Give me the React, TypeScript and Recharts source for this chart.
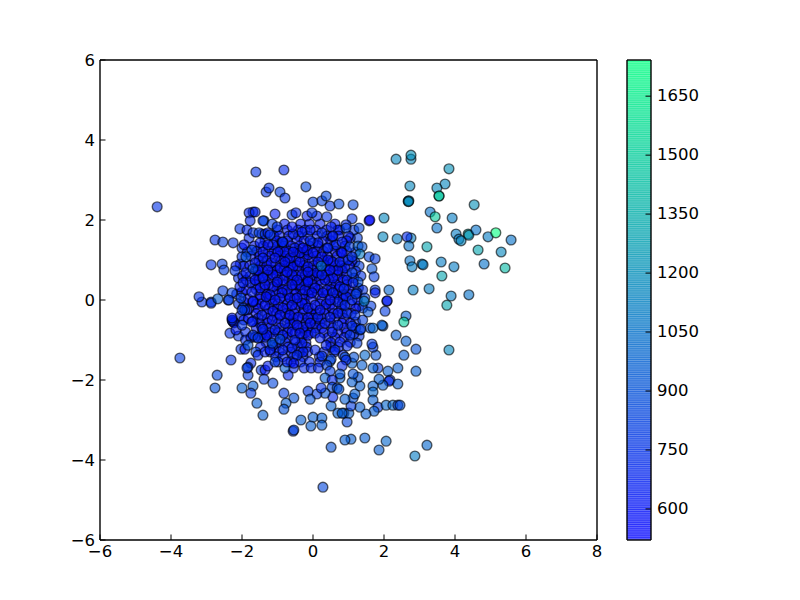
import { ReferenceArea, Scatter, ScatterChart, XAxis, YAxis } from "recharts"

// each point is [x, y, colour value]
const rightCluster = [
  [2.34, 3.52, 1150], [2.76, 3.52, 1150], [2.76, 3.62, 1200], [3.83, 3.28, 1200], [2.73, 2.85, 1150],
  [3.72, 2.9, 1150], [3.49, 2.8, 1150], [3.55, 2.6, 1500], [3.55, 2.6, 1450], [2.68, 2.47, 1050],
  [2.7, 2.48, 1150], [2.69, 2.46, 1200], [4.54, 2.38, 1200], [3.3, 2.2, 1050], [3.44, 2.08, 1500],
  [3.92, 2.05, 1100], [2.0, 2.05, 1150], [3.49, 1.8, 1050], [4.03, 1.65, 1100], [4.11, 1.52, 1100],
  [4.17, 1.48, 1150], [4.37, 1.65, 1350], [4.39, 1.62, 1200], [4.59, 1.75, 1050], [4.93, 1.58, 1100],
  [5.15, 1.68, 1740], [5.58, 1.5, 1050], [4.65, 1.25, 1300], [5.3, 1.2, 1150], [1.97, 1.58, 1150],
  [2.37, 1.53, 1100], [2.76, 1.55, 1100], [2.65, 1.58, 700], [2.7, 1.35, 1050], [3.21, 1.33, 1300],
  [2.73, 0.98, 1050], [2.79, 0.83, 1100], [3.07, 0.9, 1100], [3.1, 0.88, 1100], [3.61, 0.95, 1100],
  [3.97, 0.83, 1100], [4.82, 0.9, 1050], [5.41, 0.8, 1400], [3.63, 0.6, 1300], [2.82, 0.25, 1100],
  [3.27, 0.28, 1100], [3.89, 0.1, 1100], [4.39, 0.13, 1050], [3.77, -0.13, 1300], [2.14, 0.25, 1000],
  [2.08, -0.03, 700], [2.09, -0.02, 650], [2.03, -0.28, 800], [2.62, -0.4, 950], [2.56, -0.55, 1500],
  [1.97, -0.65, 950], [2.34, -0.88, 950], [2.62, -1.03, 950], [2.9, -1.23, 900], [3.83, -1.25, 1150],
  [2.56, -1.38, 950], [2.39, -1.7, 950], [2.9, -1.78, 950], [2.11, -1.78, 950],
]

const lowerRight = [
  [1.94, -0.63, 950], [1.83, -1.7, 800], [1.69, -1.7, 950], [1.77, -1.38, 900], [1.69, -1.18, 800],
  [1.66, -1.1, 800], [1.46, -1.38, 1000], [1.69, -0.7, 1000], [1.35, -0.73, 800], [2.17, -2.0, 800],
  [2.14, -2.03, 700], [1.97, -2.13, 950], [1.86, -1.98, 950], [2.39, -2.1, 950], [1.69, -2.15, 950],
  [1.69, -2.3, 1000], [1.69, -2.5, 950], [1.83, -2.68, 800], [1.72, -2.78, 950], [2.06, -2.63, 1000],
  [2.25, -2.63, 1000], [2.39, -2.63, 800], [2.45, -2.63, 900], [2.87, -3.9, 1100], [2.06, -3.53, 1000],
  [1.86, -3.75, 950], [1.46, -3.45, 950], [1.07, -3.48, 950], [0.9, -3.5, 950], [0.51, -3.68, 900],
  [0.28, -4.68, 850], [3.21, -3.63, 1000], [0.96, -3.05, 850], [0.87, -2.83, 850], [0.7, -2.83, 950],
  [1.01, -2.83, 950], [0.82, -2.83, 950], [1.49, -2.85, 950], [1.32, -2.68, 950], [1.07, -2.65, 800],
  [0.51, -2.65, 950], [1.13, -2.45, 900], [1.18, -2.35, 950], [0.9, -2.48, 950], [1.32, -2.15, 950],
  [1.27, -1.93, 900], [1.1, -2.05, 950], [1.13, -1.85, 900], [1.38, -1.63, 950], [1.1, -1.58, 950],
  [1.15, -1.43, 900], [0.9, -1.43, 900], [0.93, -1.5, 700], [0.82, -1.65, 700], [0.48, -1.53, 950],
  [0.51, -1.48, 800], [0.39, -1.63, 800], [0.48, -1.78, 800], [0.76, -1.95, 950], [0.76, -1.85, 900],
  [0.34, -1.95, 950], [0.54, -2.0, 700], [0.54, -2.18, 850], [0.68, -2.2, 850], [0.73, -2.23, 900],
  [0.56, -2.43, 700], [0.34, -2.33, 900], [0.11, -2.35, 800], [0.23, -2.2, 750], [-0.14, -2.28, 800],
  [-0.08, -2.48, 900], [-0.54, -2.45, 900], [-0.34, -3.0, 950], [0.0, -2.93, 950], [0.25, -2.95, 950],
  [-0.06, -3.15, 950], [0.25, -3.13, 950], [-0.56, -3.28, 750], [-0.54, -3.25, 850],
]

const lowerLeft = [
  [-2.31, -1.5, 750], [-2.7, -1.88, 850], [-2.76, -2.2, 900], [-3.75, -1.45, 800], [-2.0, -2.2, 950],
  [-1.69, -2.15, 950], [-1.75, -2.33, 800], [-1.58, -2.58, 950], [-1.41, -2.88, 950], [-0.82, -2.33, 800],
  [-0.76, -2.58, 950], [-0.82, -2.73, 900], [-1.83, -1.88, 800], [-1.75, -1.58, 700], [-1.83, -1.68, 800],
  [-1.86, -1.7, 800], [-1.38, -1.98, 800], [-1.13, -2.08, 850], [-1.46, -1.75, 800], [-1.35, -1.75, 600],
  [-1.27, -1.65, 650], [-1.07, -1.55, 800], [-2.03, -1.23, 750], [-1.92, -1.23, 650], [-1.83, -1.13, 900],
  [-1.61, -1.3, 800], [-1.55, -1.38, 700], [-1.35, -1.3, 650], [-1.21, -1.25, 650], [-2.34, -0.83, 750],
  [-2.25, -0.55, 600], [-2.27, -0.52, 600], [-2.22, -0.57, 600], [-2.17, -0.75, 650], [-2.28, -0.5, 750],
  [-2.0, -0.63, 750], [-1.72, -0.55, 650], [-1.69, -0.88, 750], [-1.55, -0.95, 750], [-1.3, -0.88, 600],
  [-1.41, -0.73, 650], [-1.15, -1.08, 900], [-0.7, -1.88, 700], [-0.79, -1.7, 950], [-0.73, -1.55, 650],
  [-0.54, -1.58, 600], [-0.93, -0.98, 850], [-3.13, -0.05, 750], [-2.87, -0.05, 800], [-3.21, 0.08, 750],
  [-2.87, -0.08, 750], [-2.68, 0.03, 950], [-2.39, 0.0, 800], [-1.97, -0.2, 800], [-1.86, -0.25, 650],
  [-1.69, -0.05, 650],
]

const upperLeft = [
  [-4.39, 2.33, 750], [-1.61, 3.2, 750], [-0.82, 3.25, 700], [-1.32, 2.7, 750], [-1.24, 2.8, 750],
  [-0.2, 2.83, 850], [-0.93, 2.7, 800], [-0.79, 2.55, 750], [-1.69, 2.2, 700], [-1.8, 2.18, 700],
  [-1.63, 2.2, 700], [-1.77, 1.98, 700], [-1.38, 1.98, 850], [-2.06, 1.78, 750], [-1.86, 1.75, 700],
  [-1.69, 1.68, 750], [-2.76, 1.5, 750], [-2.54, 1.45, 800], [-2.25, 1.43, 750], [-1.94, 1.38, 600],
  [-1.52, 1.68, 800], [-1.35, 1.65, 750], [-1.27, 1.68, 650], [-1.72, 1.25, 800], [-2.0, 1.08, 750],
  [-1.89, 1.08, 900], [-2.87, 0.88, 750], [-2.56, 0.9, 800], [-2.51, 0.75, 800], [-2.17, 0.85, 650],
  [-2.2, 0.73, 750], [-1.89, 0.68, 650], [-1.69, 0.78, 850], [-1.41, 0.55, 650], [-2.06, 0.33, 650],
  [-1.97, 0.43, 650], [-2.54, 0.23, 800], [-2.28, 0.18, 800], [-2.37, 0.0, 800], [-2.03, 0.05, 800],
  [-1.72, 0.2, 650], [-1.69, -0.03, 600], [-1.32, 0.08, 600], [-1.92, -0.25, 750], [-2.0, -0.25, 800],
  [-2.28, -0.45, 650],
]

const upperRight = [
  [0.0, 2.45, 800], [0.25, 2.48, 800], [0.37, 2.6, 850], [0.48, 2.35, 750], [0.73, 2.4, 850],
  [1.13, 2.38, 850], [-1.07, 2.15, 650], [-1.41, 1.98, 800], [-1.15, 1.9, 800], [-1.01, 1.83, 750],
  [-0.59, 2.13, 800], [-0.48, 2.18, 700], [-0.17, 2.1, 650], [0.11, 2.1, 700], [-0.03, 2.18, 750],
  [0.39, 2.08, 750], [1.1, 2.03, 750], [0.93, 1.88, 700], [0.93, 1.8, 800], [1.3, 1.8, 850],
  [1.58, 1.98, 600], [1.6, 2.0, 550], [-0.59, 1.83, 600], [-0.31, 1.7, 650], [0.25, 1.68, 700],
  [0.51, 1.83, 650], [0.56, 1.6, 650], [-0.08, 1.48, 700], [0.82, 1.45, 650], [-0.85, 1.45, 700],
  [-1.21, 1.63, 750], [-0.28, 1.3, 600], [-0.56, 1.2, 600], [0.42, 1.3, 700], [0.82, 1.18, 600],
  [1.04, 1.33, 800], [1.27, 1.35, 950], [1.38, 1.33, 900], [1.32, 1.15, 1100], [1.58, 1.08, 850],
  [1.75, 1.03, 800], [1.1, 1.08, 750], [1.66, 0.78, 900], [1.72, 0.58, 800], [1.27, 0.45, 900],
  [1.75, 0.25, 800], [1.75, 0.18, 650], [1.63, -0.15, 800], [1.55, -0.3, 900], [1.44, -0.03, 1100],
  [1.21, 0.15, 800], [1.13, 0.43, 650], [0.87, 0.28, 700], [1.1, 0.68, 800],
]

// looser points round the packed middle
const coreEdge = [
  [1.2, 1.2, 700], [1.18, 0.95, 750], [1.3, 0.85, 800], [1.2, 0.72, 700], [1.35, 0.6, 750],
  [1.15, 0.55, 700], [1.28, 0.3, 700], [1.4, 0.25, 750], [1.3, -0.15, 700], [1.4, -0.2, 800],
  [1.2, -0.55, 700], [1.4, -0.5, 800], [1.3, -0.9, 750], [1.15, -0.85, 700], [1.25, 1.55, 800],
  [1.05, 1.55, 700], [1.15, 1.75, 750], [0.75, 1.75, 700],
  [-2.05, 0.9, 700], [-1.95, 0.85, 650], [-2.1, 0.55, 700], [-1.98, 0.6, 650], [-2.15, 0.15, 700],
  [-2.0, 0.2, 650], [-1.95, -0.05, 700], [-2.1, -0.1, 750], [-2.05, -0.4, 700], [-1.95, -0.5, 650],
  [-2.1, -0.9, 750], [-1.9, -0.8, 700], [-2.0, 1.3, 750], [-1.9, -1.0, 700], [-1.85, 1.2, 700],
  [-1.8, 1.55, 700],
]

const core = [
  [-1.44, 1.65, 650], [-1.13, 1.38, 650], [-1.49, 1.43, 650], [-0.87, 1.45, 650], [-0.56, 1.65, 650],
  [-1.41, 1.2, 600], [-0.79, 1.2, 600], [-0.51, 1.3, 650], [-1.18, 0.93, 600], [-0.93, 0.8, 600],
  [-0.56, 0.83, 600], [-0.37, 0.95, 600], [-1.41, 1.05, 650], [-1.63, 0.93, 650], [-1.41, 0.58, 600],
  [-1.77, 0.6, 650], [-1.13, 0.63, 600], [-0.85, 0.5, 600], [-0.59, 0.63, 600], [-0.31, 0.63, 600],
  [-0.37, 0.38, 600], [-0.73, 0.25, 600], [-1.13, 0.33, 600], [-1.49, 0.3, 600], [-1.77, 0.43, 650],
  [-0.14, 0.83, 600], [-0.14, 1.13, 600], [-1.27, 1.38, 600], [-0.99, 1.2, 600], [-0.65, 1.05, 600],
  [-1.07, 1.05, 600], [-0.79, 0.95, 600], [-0.37, 1.18, 600], [-1.55, 0.75, 600], [-1.27, 0.75, 600],
  [-0.73, 0.7, 600], [-0.45, 0.5, 600], [-0.14, 0.5, 600], [-1.01, 0.45, 600], [-1.35, 0.38, 600],
  [-0.59, 0.38, 600], [-0.23, 0.25, 600], [-0.87, 0.18, 600], [-1.63, 0.5, 600],
  [0.0, 1.43, 650], [0.54, 1.58, 650], [0.79, 1.2, 600], [0.39, 1.3, 600], [0.14, 1.43, 650],
  [-0.08, 1.75, 650], [0.56, 0.95, 600], [0.9, 0.8, 650], [0.56, 0.55, 600], [0.96, 0.5, 650],
  [0.34, 0.5, 600], [0.11, 0.68, 600], [-0.14, 0.7, 600], [-0.17, 1.25, 600], [-0.14, 0.45, 600],
  [0.7, 0.75, 600], [0.76, 0.33, 600], [0.39, 0.25, 600], [0.06, 0.3, 600], [0.25, 1.08, 600],
  [0.0, 1.18, 600], [0.42, 1.0, 600], [0.14, 0.95, 600], [0.48, 0.75, 600], [0.25, 0.63, 650],
  [0.76, 0.95, 650], [0.99, 1.0, 700], [0.65, 1.38, 700],
  [-0.93, 0.05, 600], [-1.21, 0.13, 600], [-1.35, -0.13, 600], [-1.13, -0.28, 600], [-0.65, 0.05, 600],
  [-0.31, -0.08, 600], [-0.65, -0.38, 600], [-0.42, -0.43, 600], [-0.79, -0.58, 650], [-1.69, -0.53, 650],
  [-1.44, -0.68, 650], [-1.07, -0.75, 650], [-0.59, -0.8, 600], [-0.28, -0.68, 600], [-1.63, -0.93, 650],
  [-1.35, -0.93, 650], [-1.13, -1.13, 650], [-0.85, -1.25, 650], [-0.59, -1.2, 650], [-0.31, -1.08, 650],
  [-0.28, -1.3, 650], [-0.14, -0.88, 600], [-0.14, -0.45, 600], [-0.14, -0.2, 600], [-1.07, 0.0, 600],
  [-0.85, -0.2, 600], [-1.44, -0.38, 650], [-1.15, -0.5, 600], [-0.59, -0.13, 600], [-0.93, -0.38, 600],
  [-0.45, -0.63, 600], [-0.85, -0.88, 650], [-0.51, -1.0, 650], [-0.45, -1.38, 700],
  [-0.03, 0.18, 600], [0.28, 0.18, 600], [0.56, 0.18, 650], [0.93, 0.08, 650], [1.24, 0.18, 700],
  [1.46, 0.05, 800], [0.37, -0.1, 600], [0.06, -0.13, 600], [0.7, -0.05, 650], [0.96, -0.33, 700],
  [0.7, -0.33, 650], [0.14, -0.43, 650], [0.34, -0.58, 650], [-0.08, -0.58, 600], [1.1, -0.65, 750],
  [1.32, -0.75, 800], [1.61, -0.7, 850], [0.54, -0.8, 650], [0.76, -1.05, 650], [0.37, -1.13, 650],
  [0.96, -1.15, 700], [1.24, -1.08, 800], [0.06, -1.25, 700], [0.25, -1.4, 750], [0.85, -1.38, 700],
  [0.48, -0.43, 650], [0.06, -0.83, 650], [0.48, 0.0, 600], [0.2, -0.25, 600], [0.9, -0.13, 700],
  [0.7, -0.63, 700], [1.1, 0.0, 700], [0.2, -0.95, 650], [0.62, -1.25, 700], [1.18, -0.38, 750],
  [1.04, -0.88, 750], [-0.37, -0.83, 600], [-0.45, 0.05, 600],
]

// the packed middle, too overlapped to split by colour: [y, colour value, xs in that row]
const packedRows: [number, number, number[]][] = [
  [1.9, 640, [-0.8, -0.35, -0.1, 0.2, 0.62]],
  [1.75, 620, [-1.0, -0.72, -0.42, -0.22, 0.08, 0.38, 0.7]],
  [1.6, 640, [-1.1, -0.95, -0.68, -0.4, -0.15, 0.12, 0.4, 0.72, 1.0]],
  [1.48, 600, [-1.35, -1.02, -0.72, -0.45, -0.25, 0.28, 0.5, 0.95]],
  [1.35, 610, [-1.65, -1.4, -1.0, -0.82, -0.62, -0.38, -0.1, 0.15, 0.58, 0.9]],
  [1.22, 580, [-1.58, -1.25, -1.1, -0.92, -0.68, -0.42, -0.2, 0.1, 0.3, 0.62, 0.95]],
  [1.1, 600, [-1.75, -1.5, -1.22, -0.95, -0.78, -0.5, -0.25, 0.08, 0.4, 0.68]],
  [0.98, 580, [-1.52, -1.3, -0.9, -0.7, -0.48, -0.22, -0.02, 0.3, 0.5, 0.85, 1.1]],
  [0.86, 590, [-1.78, -1.48, -1.3, -1.05, -0.8, -0.62, -0.45, -0.25, 0.02, 0.35, 0.62, 0.8, 1.02]],
  [0.74, 570, [-1.62, -1.42, -1.15, -1.02, -0.82, -0.65, -0.42, -0.2, 0.0, 0.2, 0.38, 0.58, 0.82]],
  [0.62, 580, [-1.55, -1.28, -1.02, -0.78, -0.48, -0.22, -0.02, 0.15, 0.42, 0.68, 0.95]],
  [0.5, 570, [-1.88, -1.52, -1.25, -0.98, -0.68, -0.55, -0.28, -0.03, 0.18, 0.45, 0.7, 0.85]],
  [0.38, 580, [-1.62, -1.25, -1.0, -0.82, -0.5, -0.2, 0.0, 0.22, 0.5, 0.65, 0.95]],
  [0.26, 570, [-1.88, -1.6, -1.35, -1.02, -0.85, -0.55, -0.35, -0.1, 0.15, 0.52, 0.72, 1.0]],
  [0.14, 580, [-1.5, -1.3, -1.05, -0.72, -0.5, -0.3, -0.12, 0.12, 0.4, 0.68, 0.85, 1.05]],
  [0.02, 570, [-1.82, -1.5, -1.22, -0.78, -0.52, -0.25, -0.05, 0.25, 0.62, 0.85, 1.25]],
  [-0.1, 590, [-1.6, -1.45, -1.15, -0.98, -0.72, -0.42, -0.22, 0.2, 0.5, 0.82, 1.05]],
  [-0.22, 580, [-1.8, -1.55, -1.25, -1.0, -0.72, -0.5, -0.25, -0.02, 0.35, 0.55, 0.8, 1.2]],
  [-0.34, 590, [-1.6, -1.3, -1.02, -0.78, -0.52, -0.28, -0.05, 0.08, 0.32, 0.58, 0.82, 1.08]],
  [-0.46, 600, [-1.82, -1.55, -1.28, -1.0, -0.72, -0.55, -0.3, 0.0, 0.25, 0.6, 0.88]],
  [-0.58, 590, [-1.5, -1.28, -0.98, -0.65, -0.55, -0.2, 0.05, 0.2, 0.5, 0.82, 1.05]],
  [-0.7, 610, [-1.6, -1.22, -0.92, -0.7, -0.42, -0.15, 0.08, 0.25, 0.55, 0.88, 1.2]],
  [-0.82, 600, [-1.42, -1.2, -0.98, -0.72, -0.5, -0.22, -0.05, 0.3, 0.7, 0.95]],
  [-0.94, 620, [-1.75, -1.48, -1.1, -0.72, -0.32, 0.42, 0.62, 0.88]],
  [-1.06, 630, [-1.32, -0.95, -0.78, -0.48, -0.2, 0.5, 1.05]],
  [-1.18, 640, [-1.48, -1.05, -0.7, -0.42, -0.18, 0.5, 0.72]],
  [-1.3, 650, [-1.2, -0.95, -0.62, -0.38, -0.15, 0.3, 0.6]],
  [-1.42, 660, [-1.05, -0.85, -0.55, -0.28, 0.18]],
  [-1.55, 680, [-0.98, -0.62, -0.35, -0.1, 0.2]],
  [-1.7, 700, [-0.55, -0.25, -0.05, 0.15]],
]

// darker teal dot that shows through the middle
const topPoints = [[0.23, 0.85, 1050]]

const xTicks = [-6, -4, -2, 0, 2, 4, 6, 8]
const yTicks = [-6, -4, -2, 0, 2, 4, 6]
const barTicks = [600, 750, 900, 1050, 1200, 1350, 1500, 1650]
const valueMin = 521
const valueMax = 1742

const packed = packedRows.flatMap(([y, v, xs]) => xs.map((x) => [x, y, v]))
const points = [...coreEdge, ...packed, ...core, ...rightCluster, ...lowerRight, ...lowerLeft, ...upperLeft, ...upperRight, ...topPoints].map(
  ([x, y, v]) => ({ x, y, v })
)

// matplotlib "winter"
function winter(v: number) {
  const t = Math.min(1, Math.max(0, (v - valueMin) / (valueMax - valueMin)))
  return `rgb(0,${Math.round(255 * t)},${Math.round(255 * (1 - 0.5 * t))})`
}

const barBands = Array.from({ length: 256 }, (_, i) => valueMin + (i * (valueMax - valueMin)) / 256)
const bandHeight = (valueMax - valueMin) / 256
const barRange = [{ a: 0, b: valueMin }, { a: 1, b: valueMax }]

const label = (v: number) => String(v).replace("-", "\u2212")
const font = { fontFamily: "DejaVu Sans", fontSize: 16.5, fill: "#000" }
const tickLen = 5.5

const Dot = (p: any) => (
  <circle
    cx={p.cx}
    cy={p.cy}
    r={4.9}
    fill={winter(p.payload.v)}
    fillOpacity={0.6}
    stroke="#000"
    strokeOpacity={0.6}
    strokeWidth={1.4}
  />
)
const NoDot = () => <g />

const axisLine = { stroke: "#000", strokeWidth: 1.4 }

const BottomTick = (p: any) => (
  <g>
    <line x1={p.x} x2={p.x} y1={p.y} y2={p.y - tickLen} stroke="#000" />
    <text x={p.x} y={p.y + 17} textAnchor="middle" {...font}>{label(p.payload.value)}</text>
  </g>
)
const LeftTick = (p: any) => (
  <g>
    <line x1={p.x} x2={p.x + tickLen} y1={p.y} y2={p.y} stroke="#000" />
    <text x={p.x - 5} y={p.y + 6} textAnchor="end" {...font}>{label(p.payload.value)}</text>
  </g>
)
const TopTick = (p: any) => <line x1={p.x} x2={p.x} y1={p.y} y2={p.y + tickLen} stroke="#000" />
const RightTick = (p: any) => <line x1={p.x} x2={p.x - tickLen} y1={p.y} y2={p.y} stroke="#000" />
const BarTick = (p: any) => (
  <g>
    <line x1={p.x} x2={p.x - tickLen} y1={p.y} y2={p.y} stroke="#000" />
    <text x={p.x + 6} y={p.y + 5} textAnchor="start" {...font}>{p.payload.value}</text>
  </g>
)

export default function App() {
  return (
    <div style={{ position: "absolute", left: 0, top: 0, width: 800, height: 600, background: "#fff" }}>
      <div style={{ position: "absolute", left: 0, top: 0 }}>
        <ScatterChart width={800} height={600} margin={{ top: 30, right: 173, bottom: 30, left: 70 }}>
          <XAxis xAxisId="b" type="number" dataKey="x" domain={[-6, 8]} ticks={xTicks} height={30} tickSize={0} tickMargin={0} tick={BottomTick} tickLine={false} axisLine={axisLine} interval={0} />
          <XAxis xAxisId="t" orientation="top" type="number" dataKey="x" domain={[-6, 8]} ticks={xTicks} height={30} tickSize={0} tickMargin={0} tick={TopTick} tickLine={false} axisLine={axisLine} interval={0} />
          <YAxis yAxisId="l" type="number" dataKey="y" domain={[-6, 6]} ticks={yTicks} width={30} tickSize={0} tickMargin={0} tick={LeftTick} tickLine={false} axisLine={axisLine} interval={0} />
          <YAxis yAxisId="r" orientation="right" type="number" dataKey="y" domain={[-6, 6]} ticks={yTicks} width={30} tickSize={0} tickMargin={0} tick={RightTick} tickLine={false} axisLine={axisLine} interval={0} />
          <Scatter data={points} xAxisId="b" yAxisId="l" shape={Dot} isAnimationActive={false} />
        </ScatterChart>
      </div>
      <div style={{ position: "absolute", left: 0, top: 0 }}>
        <ScatterChart width={800} height={600} margin={{ top: 30, right: 119, bottom: 30, left: 597 }}>
          <XAxis xAxisId="b" type="number" dataKey="a" domain={[0, 1]} ticks={[]} height={30} tick={false} tickLine={false} axisLine={axisLine} />
          <XAxis xAxisId="t" orientation="top" type="number" dataKey="a" domain={[0, 1]} ticks={[]} height={30} tick={false} tickLine={false} axisLine={axisLine} />
          <YAxis yAxisId="l" type="number" dataKey="b" domain={[valueMin, valueMax]} width={30} tick={false} tickLine={false} axisLine={axisLine} />
          <YAxis yAxisId="r" orientation="right" type="number" dataKey="b" domain={[valueMin, valueMax]} ticks={barTicks} width={30} tickSize={0} tickMargin={0} tick={BarTick} tickLine={false} axisLine={axisLine} interval={0} />
          <Scatter data={barRange} xAxisId="b" yAxisId="r" shape={NoDot} isAnimationActive={false} />
          <Scatter data={barRange} xAxisId="t" yAxisId="l" shape={NoDot} isAnimationActive={false} />
          {barBands.map((b) => (
            <ReferenceArea
              key={b}
              xAxisId="b"
              yAxisId="r"
              y1={b}
              y2={Math.min(valueMax, b + bandHeight * 1.5)}
              fill={winter(b)}
              fillOpacity={0.6}
              stroke="none"
            />
          ))}
        </ScatterChart>
      </div>
    </div>
  )
}
